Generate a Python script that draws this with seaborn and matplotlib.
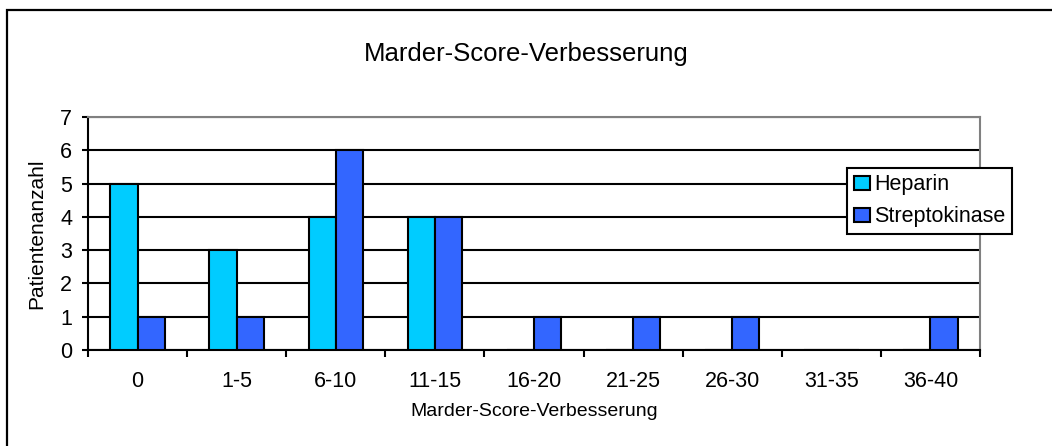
import pandas as pd
import numpy as np
import matplotlib
matplotlib.use("Agg")
import matplotlib.pyplot as plt
import seaborn as sns
from matplotlib.patches import Rectangle

categories = ["0", "1-5", "6-10", "11-15", "16-20", "21-25", "26-30", "31-35", "36-40"]
heparin = [5, 3, 4, 4, 0, 0, 0, 0, 0]
streptokinase = [1, 1, 6, 4, 1, 1, 1, 0, 1]

df = pd.DataFrame({
    "Kategorie": categories * 2,
    "Patienten": heparin + streptokinase,
    "Gruppe": ["Heparin"] * len(categories) + ["Streptokinase"] * len(categories),
})

sns.set_style("white")
plt.rcParams['font.family'] = ['Liberation Sans', 'DejaVu Sans']
plt.rcParams['text.color'] = 'black'
plt.rcParams['axes.labelcolor'] = 'black'
plt.rcParams['xtick.color'] = 'black'
plt.rcParams['ytick.color'] = 'black'

fig = plt.figure(figsize=(10.52, 4.46), dpi=100)
ax = fig.add_axes([88 / 1052, 1 - 350 / 446, 892 / 1052, 233 / 446])

# outer chart border (only left and top edges lie inside the image)
fig.patches.append(Rectangle((7 / 1052, -0.1), 1.2, 1 - 10 / 446 + 0.1,
                             transform=fig.transFigure, fill=False,
                             edgecolor="black", linewidth=1.6))

sns.barplot(data=df, x="Kategorie", y="Patienten", hue="Gruppe",
            palette=["#00CCFF", "#3366FF"], width=0.55, gap=0,
            edgecolor="black", linewidth=1.5, saturation=1, ax=ax, zorder=3)

ax.set_ylim(0, 7)
ax.set_xlim(-0.5, 8.5)
ax.set_yticks(range(0, 8))
ax.yaxis.grid(True, color="black", linewidth=1.5, zorder=0)
ax.set_axisbelow(True)

ax.set_xticks(range(len(categories)))
ax.set_xticklabels(categories)
ax.set_xticks(np.arange(-0.5, 9, 1), minor=True)
ax.tick_params(axis="x", which="major", length=0, pad=15, labelsize=15.5)
ax.tick_params(axis="x", which="minor", length=5, width=1.5, direction="out", bottom=True)
ax.tick_params(axis="y", length=4.5, width=1.5, direction="out", left=True, labelsize=15.5, pad=7)

for side in ["top", "right"]:
    ax.spines[side].set_color("#808080")
    ax.spines[side].set_linewidth(1.5)
for side in ["left", "bottom"]:
    ax.spines[side].set_color("black")
    ax.spines[side].set_linewidth(1.5)

ax.set_xlabel("Marder-Score-Verbesserung", fontsize=14, labelpad=8)
ax.set_ylabel("Patientenanzahl", fontsize=15, labelpad=10)
fig.text(0.5, 1 - 54 / 446, "Marder-Score-Verbesserung", ha="center", va="center", fontsize=18.5)

leg = ax.legend(loc="upper left", bbox_to_anchor=(0.851, 0.781), fontsize=15.5,
                frameon=True, fancybox=False, edgecolor="black", framealpha=1,
                handlelength=0.75, handleheight=0.65, handletextpad=0.2,
                borderpad=0.3, labelspacing=0.5, borderaxespad=0)
leg.get_frame().set_linewidth(1.5)
leg.set_zorder(5)

fig.savefig("out.png", dpi=100)
